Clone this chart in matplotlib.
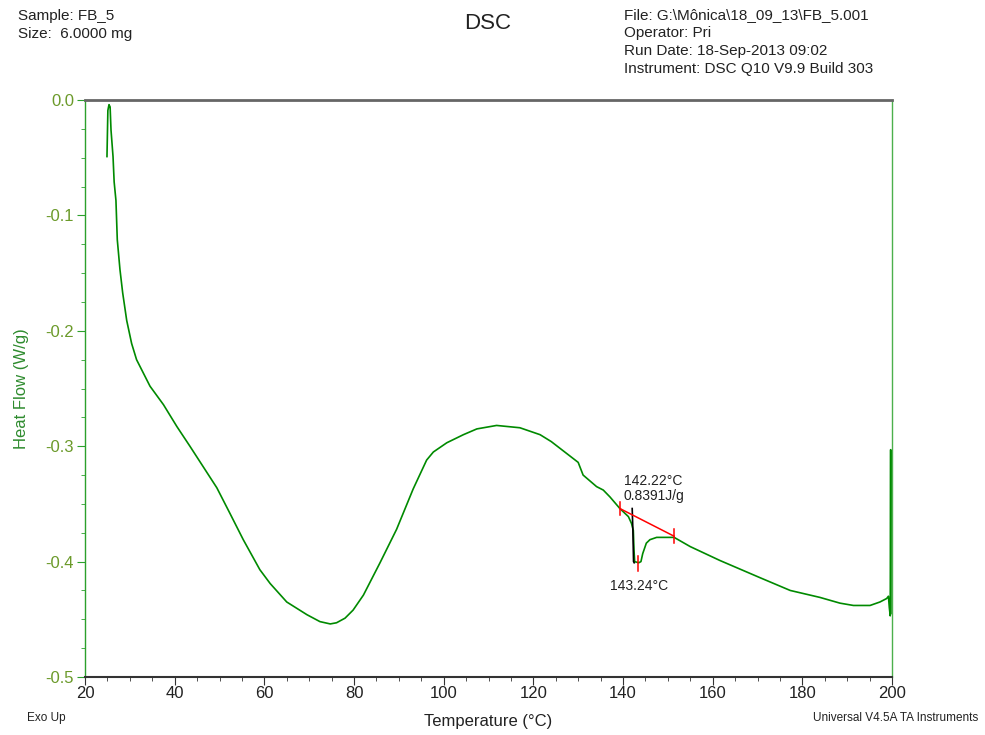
import matplotlib.pyplot as plt
from matplotlib.ticker import MultipleLocator

plt.rcParams['font.family'] = ['Liberation Sans', 'DejaVu Sans']

# DSC curve (temperature in C, heat flow in W/g)
temp = [24.9, 25.1, 25.35, 25.6, 25.8, 26.25, 26.5, 26.9, 27.2, 27.8, 28.4,
        29.3, 30.4, 31.5, 34.5, 37.5, 40.5, 43.4, 46.4, 49.4, 52.3, 55.3,
        59.0, 61.3, 65.0, 69.5, 72.4, 74.7, 76.1, 78.0, 79.8, 82.1, 85.8,
        89.5, 93.2, 96.2, 97.7, 100.7, 104.4, 107.4, 111.8, 117.0, 121.5,
        124.0, 126.0, 128.0, 130.0, 131.1, 134.1, 135.6, 137.1, 139.3, 141.2,
        141.9, 142.3, 142.45, 142.6, 143.5, 144.0, 144.4, 145.2, 146.0, 147.5,
        149.7, 151.4, 155.0, 161.6, 170.6, 177.3, 183.9, 188.4, 191.4, 195.1,
        197.3, 198.8, 199.2, 199.4, 199.6, 199.7, 199.75]
heat_flow = [-0.049, -0.009, -0.004, -0.006, -0.026, -0.049, -0.071, -0.087,
             -0.121, -0.147, -0.167, -0.191, -0.211, -0.225, -0.248, -0.264,
             -0.283, -0.300, -0.318, -0.336, -0.358, -0.381, -0.407, -0.419,
             -0.435, -0.446, -0.452, -0.454, -0.453, -0.449, -0.442, -0.429,
             -0.401, -0.372, -0.337, -0.312, -0.305, -0.297, -0.290, -0.285,
             -0.282, -0.284, -0.290, -0.296, -0.302, -0.308, -0.314, -0.325,
             -0.335, -0.338, -0.344, -0.354, -0.361, -0.367, -0.373, -0.390,
             -0.400, -0.401, -0.400, -0.393, -0.384, -0.381, -0.379, -0.379,
             -0.379, -0.387, -0.399, -0.414, -0.425, -0.431, -0.436, -0.438,
             -0.438, -0.435, -0.432, -0.430, -0.440, -0.447, -0.303, -0.445]

# peak integration marks
onset_line_t = [142.05, 142.2, 142.35, 142.5]
onset_line_hf = [-0.354, -0.373, -0.400, -0.401]
baseline_t = [139.3, 151.4]
baseline_hf = [-0.354, -0.378]
peak_t = 143.24
peak_hf = -0.401

fig = plt.figure(figsize=(9.85, 7.35), dpi=100)
ax = fig.add_axes([0.0863, 0.0789, 0.8193, 0.785])

green = '#008a00'
ax.plot(temp, heat_flow, color=green, lw=1.2)
ax.plot(onset_line_t, onset_line_hf, color='black', lw=1.2)
ax.plot(baseline_t, baseline_hf, color='red', lw=1.1)
for t, hf in zip(baseline_t, baseline_hf):
    ax.plot([t, t], [hf - 0.006, hf + 0.006], color='red', lw=1.1)
ax.plot([peak_t, peak_t], [peak_hf - 0.007, peak_hf + 0.006], color='red', lw=1.1)

ax.text(146.8, -0.349, '142.22\u00b0C\n0.8391J/g', ha='center', va='bottom',
        fontsize=10, color='#222222', linespacing=1.05)
ax.text(143.6, -0.415, '143.24\u00b0C', ha='center', va='top',
        fontsize=10, color='#222222')

ax.set_xlim(20, 200)
ax.set_ylim(-0.5, 0.0)
ax.xaxis.set_major_locator(MultipleLocator(20))
ax.xaxis.set_minor_locator(MultipleLocator(5))
ax.yaxis.set_major_locator(MultipleLocator(0.1))
ax.yaxis.set_minor_locator(MultipleLocator(0.025))
ax.set_yticks([0.0, -0.1, -0.2, -0.3, -0.4, -0.5])
ax.set_yticklabels(['0.0', '-0.1', '-0.2', '-0.3', '-0.4', '-0.5'])

ax.spines['left'].set_color('#2ca02c')
ax.spines['right'].set_color('#4cb04c')
ax.spines['top'].set_color('#666666')
ax.spines['bottom'].set_color('#333333')
for s in ax.spines.values():
    s.set_linewidth(1.0)
ax.spines['top'].set_linewidth(2.0)
ax.spines['bottom'].set_linewidth(1.5)

ax.tick_params(axis='x', which='major', length=6, colors='#333333',
               labelsize=12, labelcolor='#222222', pad=0.5)
ax.tick_params(axis='x', which='minor', length=3, colors='#333333')
ax.tick_params(axis='y', which='major', length=6, colors='#2ca02c',
               labelsize=12, labelcolor='#6b9a2a', pad=2)
ax.tick_params(axis='y', which='minor', length=3, colors='#2ca02c')

ax.set_xlabel('Temperature (\u00b0C)', fontsize=12, color='#222222', labelpad=9)
ax.set_ylabel('Heat Flow (W/g)', fontsize=12, color='#2e8b2e', labelpad=12)

fig.text(0.018, 0.988, 'Sample: FB_5\nSize:  6.0000 mg', ha='left', va='top',
         fontsize=11, color='#222222', linespacing=1.36)
fig.text(0.495, 0.968, 'DSC', ha='center', va='center', fontsize=16, color='#222222')
fig.text(0.633, 0.989, 'File: G:\\M\u00f4nica\\18_09_13\\FB_5.001\nOperator: Pri\n'
         'Run Date: 18-Sep-2013 09:02\nInstrument: DSC Q10 V9.9 Build 303',
         ha='left', va='top', fontsize=11, color='#222222', linespacing=1.36)
fig.text(0.027, 0.023, 'Exo Up', ha='left', va='center', fontsize=8.5, color='#222222')
fig.text(0.993, 0.023, 'Universal V4.5A TA Instruments', ha='right', va='center',
         fontsize=8.5, color='#222222')

fig.savefig('out.png', dpi=100)
